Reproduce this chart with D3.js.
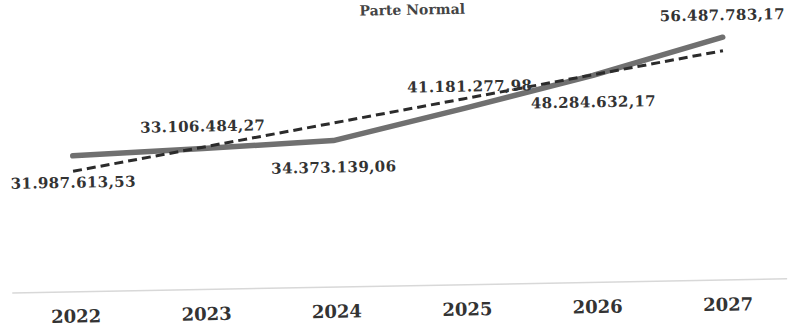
<!DOCTYPE html>
<html><head><meta charset="utf-8">
<script src="https://cdn.jsdelivr.net/npm/d3@7/dist/d3.min.js"></script>
<style>body{margin:0;background:#fff}svg{display:block}</style>
</head><body>
<svg id="c" width="788" height="330"></svg>
<script>
const years = ["2022","2023","2024","2025","2026","2027"];
const values = [31987613.53, 33106484.27, 34373139.06, 41181277.98, 48284632.17, 56487783.17];
const labels = ["31.987.613,53","33.106.484,27","34.373.139,06","41.181.277,98","48.284.632,17","56.487.783,17"];
const labelPos = ["below","above","below","above","below","above"];
const title = "Parte Normal";

const svg = d3.select("#c");
const g = svg.append("g").attr("transform","rotate(-1.05,394,165)");

const x = d3.scalePoint().domain(years).range([73, 725]);
const y = d3.scaleLinear().domain([0, 60000000]).range([289, 28]);

g.append("text").attr("x", 415).attr("y", 15).attr("text-anchor","middle")
  .attr("font-family","DejaVu Serif").attr("font-weight","bold").attr("font-size",14)
  .attr("fill","#444").text(title);

// baseline axis
const xAxis = d3.axisBottom(x).tickSize(0).tickPadding(18);
const ax = g.append("g").attr("transform","translate(0,286)").call(xAxis);
ax.select(".domain").attr("d","M10,0H785").attr("stroke","#d8d8d8").attr("stroke-width",1.5);
ax.selectAll("text").attr("font-family","DejaVu Serif").attr("font-weight","bold")
  .attr("font-size",18).attr("fill","#333");

// trend (least squares)
const n = values.length, idx = d3.range(n);
const mx = d3.mean(idx), my = d3.mean(values);
const slope = d3.sum(idx, i => (i-mx)*(values[i]-my)) / d3.sum(idx, i => (i-mx)*(i-mx));
const icpt = my - slope*mx;
const trend = idx.map(i => icpt + slope*i);

const line = d3.line().x((d,i)=>x(years[i])).y(d=>y(d));

g.append("path").datum(values).attr("d", line).attr("fill","none")
  .attr("stroke","#707070").attr("stroke-width",5.5).attr("stroke-linecap","round").attr("stroke-linejoin","round");
g.append("path").datum(trend).attr("d", line).attr("fill","none")
  .attr("stroke","#2b2b2b").attr("stroke-width",3).attr("stroke-dasharray","9,5");

g.selectAll(".lbl").data(values).enter().append("text")
  .attr("x",(d,i)=>x(years[i]) + (i===3?7:0))
  .attr("y",(d,i)=> labelPos[i]==="above" ? y(d)-17 : y(d)+32)
  .attr("text-anchor","middle")
  .attr("font-family","DejaVu Serif").attr("font-weight","bold").attr("font-size",15)
  .attr("letter-spacing",0.4)
  .attr("fill","#333").text((d,i)=>labels[i]);
</script>
</body></html>
